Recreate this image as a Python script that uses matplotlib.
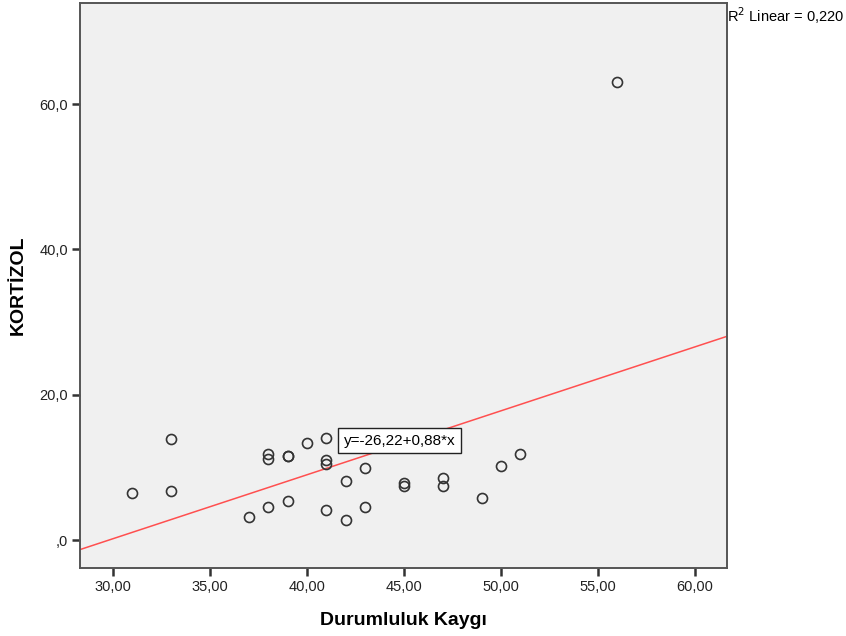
import matplotlib
matplotlib.use("Agg")
import matplotlib.pyplot as plt
import numpy as np

plt.rcParams['font.family'] = ['Liberation Sans', 'DejaVu Sans']

# Durumluluk Kaygı scores and matching KORTİZOL values
kaygi = [31, 33, 33, 37, 38, 38, 38, 39, 39, 39, 40, 41, 41, 41, 41,
         42, 42, 43, 43, 45, 45, 47, 47, 49, 50, 51, 56]
kortizol = [6.5, 13.9, 6.7, 3.2, 4.6, 11.9, 11.2, 11.6, 11.5, 5.4, 13.3, 14.0, 11.0, 10.5, 4.2,
            8.1, 2.75, 9.95, 4.5, 7.9, 7.5, 8.6, 7.4, 5.8, 10.2, 11.9, 63.0]

# Fitted linear model
intercept = -26.22
slope = 0.88
r2_label = "R$^2$ Linear = 0,220"
eq_label = "y=-26,22+0,88*x"

xticks = [30, 35, 40, 45, 50, 55, 60]
xticklabels = ["30,00", "35,00", "40,00", "45,00", "50,00", "55,00", "60,00"]
yticks = [0, 20, 40, 60]
yticklabels = [",0", "20,0", "40,0", "60,0"]

fig = plt.figure(figsize=(8.46, 6.36), dpi=100)
ax = fig.add_axes([80/846, 1-568/636, 647/846, 565/636])
ax.set_facecolor('#F0F0F0')

xlim = (28.3, 61.65)
ylim = (-3.85, 73.9)
ax.set_xlim(*xlim)
ax.set_ylim(*ylim)

xs = np.array(xlim)
ax.plot(xs, intercept + slope * xs, color='#FF4F4F', lw=1.1, zorder=2)

ax.plot(kaygi, kortizol, linestyle='none', marker='o', markersize=7.2,
        markerfacecolor='none', markeredgecolor='#333333', markeredgewidth=1.2, zorder=3)

ax.text(41.9, 13.65, eq_label, fontsize=11, va='center', ha='left', zorder=4,
        bbox=dict(boxstyle='square,pad=0.35', facecolor='white', edgecolor='#222222', lw=1))

fig.text(727/846, 1-16/636, r2_label, fontsize=10.5, ha='left', va='center')

ax.set_xticks(xticks)
ax.set_xticklabels(xticklabels, fontsize=10.5, color='#222222')
ax.set_yticks(yticks)
ax.set_yticklabels(yticklabels, fontsize=10.5, color='#222222')
ax.tick_params(direction='out', length=6, width=1.8, color='#333333', pad=2.5)

for s in ax.spines.values():
    s.set_color('#555555')
    s.set_linewidth(1.4)

ax.set_xlabel("Durumluluk Kaygı", fontsize=14, fontweight='bold')
ax.xaxis.set_label_coords((403 - 80) / 647, -(612 - 568) / 565)
ax.set_ylabel("KORTİZOL", fontsize=14, fontweight='bold')
ax.yaxis.set_label_coords(-(80 - 27) / 647, (568 - 285) / 565)

fig.savefig("out.png", dpi=100)
